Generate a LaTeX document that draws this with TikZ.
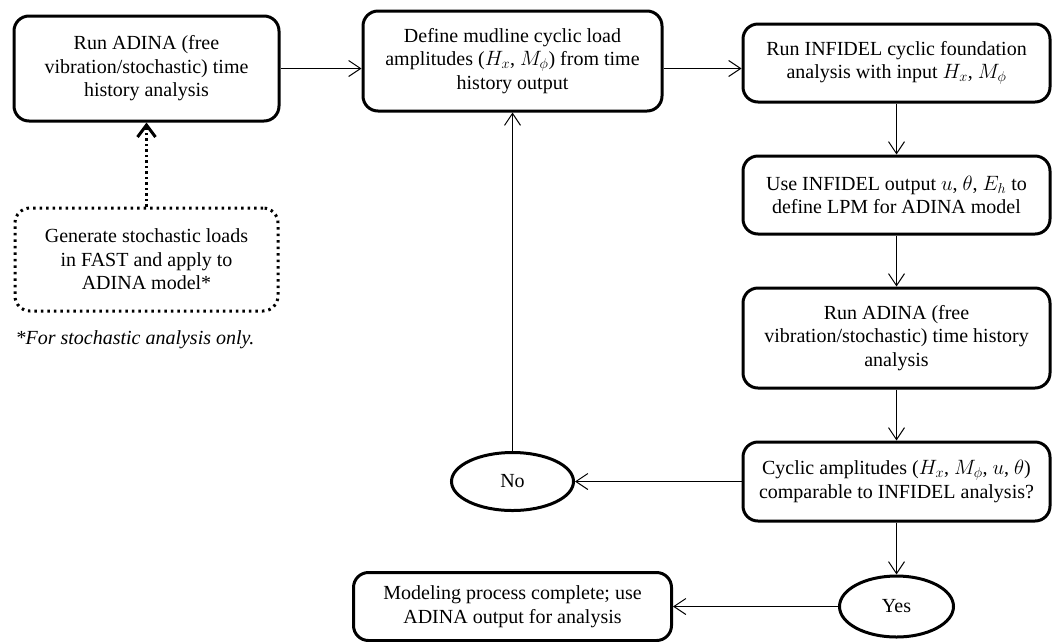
\documentclass[tikz,border=0pt]{standalone}
\usepackage{fontspec}
\setmainfont{Liberation Serif}
\usetikzlibrary{positioning,shapes.geometric,arrows.meta}

\begin{document}
\begin{tikzpicture}[x=1pt, y=1pt, node distance=51pt,
    font=\fontsize{20}{23.5}\selectfont,
    box/.style={rectangle, rounded corners=15pt, draw, line width=3pt, align=center, inner sep=0pt},
    dotbox/.style={box, dash pattern=on 2.5pt off 4pt},
    decision/.style={ellipse, draw, line width=3pt, inner sep=0pt},
    arr/.style={-{Straight Barb[length=12pt,width=16pt]}, line width=1pt},
    dotarr/.style={-{Straight Barb[length=12pt,width=18pt]}, line width=3pt, dash pattern=on 2.5pt off 3pt}]
    \useasboundingbox (0,0) rectangle (1054,-641);

    \node[box, minimum width=265pt, minimum height=105pt] (run) at (146.5,-68.5) {Run ADINA (free\\vibration/stochastic) time\\history analysis};
    \node[box, minimum width=299pt, minimum height=100pt] (mudline) at (512.5,-61) {Define mudline cyclic load\\amplitudes ($H_x$, $M_\phi$) from time\\history output};
    \node[box, minimum width=307pt, minimum height=78pt] (infidel) at (896.5,-63) {Run INFIDEL cyclic foundation\\analysis with input $H_x$, $M_\phi$};
    \node[box, minimum width=307pt, minimum height=78pt, below=of infidel] (lpm) {Use INFIDEL output $u$, $\theta$, $E_h$ to\\define LPM for ADINA model};
    \node[box, minimum width=307pt, minimum height=100pt, below=of lpm] (rerun) {Run ADINA (free\\vibration/stochastic) time history\\analysis};
    \node[box, minimum width=307pt, minimum height=79pt, below=of rerun] (compare) {Cyclic amplitudes ($H_x$, $M_\phi$, $u$, $\theta$)\\comparable to INFIDEL analysis?};
    \node[decision, minimum width=114pt, minimum height=61pt, below=52pt of compare] (yes) {Yes};
    \node[decision, minimum width=122pt, minimum height=58pt] (no) at (mudline |- compare) {No};
    \node[box, minimum width=318pt, minimum height=68pt] (done) at (mudline |- yes) {Modeling process complete; use\\ADINA output for analysis};
    \node[dotbox, minimum width=263pt, minimum height=103pt] (stoch) at (146.5,-259.5) {Generate stochastic loads\\in FAST and apply to\\ADINA model*};
    \node[anchor=west, font=\fontsize{20}{23.5}\selectfont\itshape] (note) at (12,-340) {*For stochastic analysis only.};

    \draw[arr] (run.east) -- (run.east -| mudline.west);
    \draw[arr] (run.east -| mudline.east) -- (run.east -| infidel.west);
    \draw[arr] (infidel) -- (lpm);
    \draw[arr] (lpm) -- (rerun);
    \draw[arr] (rerun) -- (compare);
    \draw[arr] (compare) -- (yes);
    \draw[arr] (compare) -- (no);
    \draw[arr] (no) -- (mudline);
    \draw[arr] (yes) -- (done);
    \draw[dotarr] (stoch) -- (run);
\end{tikzpicture}
\end{document}
